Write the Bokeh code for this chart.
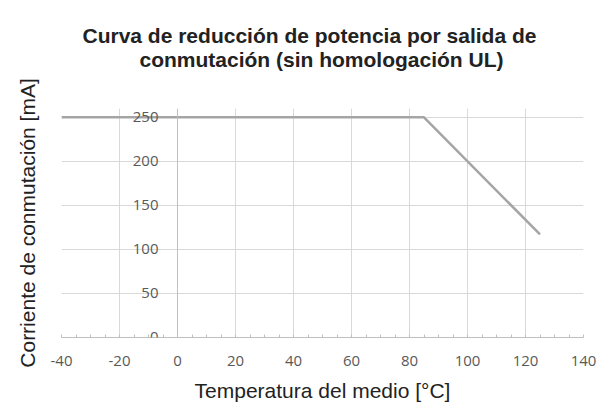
from bokeh.plotting import figure
from bokeh.models import Range1d, FixedTicker, Title, LinearAxis, Label
from bokeh.embed import file_html
from bokeh.resources import INLINE

# Data
temperature = [-40, 85, 125]
current = [250, 250, 117]

x_ticks = [-40, -20, 0, 20, 40, 60, 80, 100, 120, 140]
x_tick_labels = ["-40", "-20", "0", "20", "40", "60", "80", "100", "120", "140"]
x_minor_ticks = [-40, -35, -30, -25, -20, -15, -10, -5, 0, 5, 10, 15, 20, 25,
                 30, 35, 40, 45, 50, 55, 60, 65, 70, 75, 80, 85, 90, 95, 100,
                 105, 110, 115, 120, 125, 130, 135, 140]
y_ticks = [0, 50, 100, 150, 200, 250]
y_tick_labels = ["0", "50", "100", "150", "200", "250"]
y_axis_position = 0

title_line1 = "Curva de reducción de potencia por salida de"
title_line2 = "conmutación (sin homologación UL)"
x_label = "Temperatura del medio [°C]"
y_label = "Corriente de conmutación [mA]"

p = figure(width=615, height=416,
           x_range=Range1d(-40, 140), y_range=Range1d(0, 260),
           output_backend="svg", toolbar_location=None,
           min_border_left=61, min_border_right=32,
           min_border_bottom=79, min_border_top=108)

p.outline_line_color = None
p.background_fill_color = "white"
p.border_fill_color = "white"

# Title (two lines)
p.title.text = ""
t2 = Title(text=title_line2, align="left", text_font="Liberation Sans",
           text_font_style="bold", text_font_size="21px", text_color="#222222",
           offset=78, standoff=76)
t1 = Title(text=title_line1, align="left", text_font="Liberation Sans",
           text_font_style="bold", text_font_size="21px", text_color="#222222",
           offset=21, standoff=-79)
p.add_layout(t2, "above")
p.add_layout(t1, "above")

# Grids
p.xgrid.ticker = FixedTicker(ticks=x_ticks)
p.ygrid.ticker = FixedTicker(ticks=y_ticks)
p.grid.grid_line_color = "#D9D9D9"
p.grid.grid_line_width = 1

# X axis
p.xaxis.ticker = FixedTicker(ticks=x_ticks, minor_ticks=x_minor_ticks)
p.xaxis.major_label_overrides = dict(zip(x_ticks, x_tick_labels))
p.xaxis.axis_line_color = "#BFBFBF"
p.xaxis.major_tick_line_color = None
p.xaxis.minor_tick_line_color = "#BFBFBF"
p.xaxis.minor_tick_in = 3
p.xaxis.minor_tick_out = 0
p.xaxis.major_label_text_font = "Open Sans"
p.xaxis.major_label_text_font_size = "15px"
p.xaxis.major_label_text_color = "#595959"
p.xaxis.major_label_standoff = 12
p.xaxis.axis_label = x_label
p.xaxis.axis_label_text_font = "Liberation Sans"
p.xaxis.axis_label_text_font_style = "normal"
p.xaxis.axis_label_text_font_size = "21px"
p.xaxis.axis_label_text_color = "#222222"
p.xaxis.axis_label_standoff = 10

# Left axis: title only
p.yaxis.ticker = FixedTicker(ticks=[])
p.yaxis.axis_line_color = None
p.yaxis.major_tick_line_color = None
p.yaxis.minor_tick_line_color = None
p.yaxis.major_label_standoff = 0
p.yaxis.axis_label = y_label
p.yaxis.axis_label_text_font = "Liberation Sans"
p.yaxis.axis_label_text_font_style = "normal"
p.yaxis.axis_label_text_font_size = "21px"
p.yaxis.axis_label_text_color = "#222222"
p.yaxis.axis_label_standoff = 23

# Value axis crossing at x = 0 (the bottom "0" label is drawn separately, sitting on the axis)
y_axis0 = LinearAxis(fixed_location=y_axis_position,
                     ticker=FixedTicker(ticks=y_ticks[1:]),
                     major_label_overrides=dict(zip(y_ticks[1:], y_tick_labels[1:])),
                     axis_line_color="#BFBFBF",
                     major_tick_line_color=None, minor_tick_line_color=None,
                     major_tick_in=0, major_tick_out=0,
                     major_label_standoff=19,
                     major_label_text_font="Open Sans",
                     major_label_text_font_size="15px",
                     major_label_text_color="#595959")
p.add_layout(y_axis0, "left")

p.add_layout(Label(x=y_axis_position, y=y_ticks[0], text=y_tick_labels[0],
                   x_offset=-19, y_offset=1, text_align="right",
                   text_baseline="alphabetic",
                   text_font="Open Sans", text_font_size="15px",
                   text_color="#595959"))

p.line(temperature, current, line_color="#A5A5A5", line_width=2.5)

open("out.html", "w").write(file_html(p, INLINE))
